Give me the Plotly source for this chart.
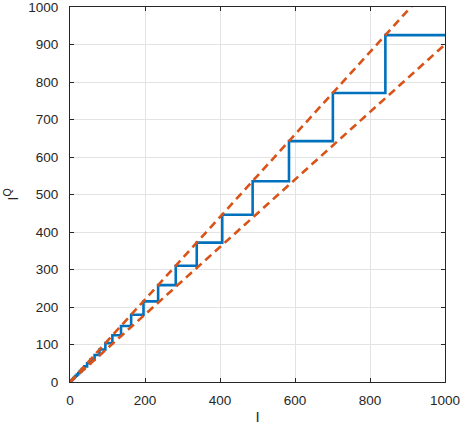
import plotly.graph_objects as go

# Quantizer staircase: breakpoints (I) and output levels (I^Q)
x_steps = [0, 3.5, 4.3, 5.1, 6.1, 7.4, 8.8, 10.5, 12.6, 15.2, 18.3, 21.9, 26.3, 31.5,
           37.9, 45.5, 54.5, 65.5, 78.6, 94.3, 113, 136, 163, 196, 235, 282, 338,
           406, 487, 584, 701, 841, 1000]
y_levels = [0, 3.9, 4.7, 5.6, 6.7, 8.1, 9.7, 11.6, 13.9, 16.7, 20.1, 24.1, 28.9, 34.7,
            41.7, 50.0, 60.0, 72.0, 86.5, 103.7, 124.5, 149.4, 179.3, 215.1, 258.2,
            309.8, 371.7, 446.1, 535.3, 642.4, 770.8, 925, 925]

# Sector bounds (dashed)
bound_x = [0, 1000]
upper_y = [0, 1100]
lower_y = [0, 900]

x_ticks = [0, 200, 400, 600, 800, 1000]
y_ticks = [0, 100, 200, 300, 400, 500, 600, 700, 800, 900, 1000]

blue = "#0072BD"
orange = "#D95319"
axcol = "#262626"
font = "Liberation Sans, Arial, Helvetica, sans-serif"

fig = go.Figure()
fig.add_trace(go.Scatter(x=x_steps, y=y_levels, mode="lines",
                         line=dict(color=blue, width=2.6, shape="hv"),
                         showlegend=False, hoverinfo="skip"))
fig.add_trace(go.Scatter(x=bound_x, y=upper_y, mode="lines",
                         line=dict(color=orange, width=2.6, dash="8px,5px"),
                         showlegend=False, hoverinfo="skip"))
fig.add_trace(go.Scatter(x=bound_x, y=lower_y, mode="lines",
                         line=dict(color=orange, width=2.6, dash="8px,5px"),
                         showlegend=False, hoverinfo="skip"))

axis_common = dict(
    showline=True, linecolor=axcol, linewidth=1, mirror="ticks",
    ticks="inside", ticklen=4, tickcolor=axcol, tickwidth=1,
    showgrid=True, gridcolor="#e3e3e3", gridwidth=1, zeroline=False,
    tickfont=dict(family=font, size=13.5, color=axcol),
    automargin=False, ticklabeloverflow="allow",
)

fig.update_xaxes(range=[-0.01, 1000.01], tickvals=x_ticks, ticktext=[str(v) for v in x_ticks],
                 title=dict(text="I", font=dict(family=font, size=15, color=axcol), standoff=6),
                 ticklabelstandoff=6, **axis_common)
fig.update_yaxes(range=[-0.01, 1000.01], tickvals=y_ticks, ticktext=[str(v) for v in y_ticks],
                 title=dict(text="I<sup>Q</sup>", font=dict(family=font, size=15, color=axcol), standoff=6),
                 ticklabelstandoff=8, **axis_common)

fig.update_layout(
    width=460, height=425,
    margin=dict(l=70, r=15, t=7, b=43),
    paper_bgcolor="white", plot_bgcolor="white",
)

fig.write_html("out.html", config={"displayModeBar": False, "staticPlot": True},
               post_script="document.body.style.margin='0';document.body.style.padding='0';")
